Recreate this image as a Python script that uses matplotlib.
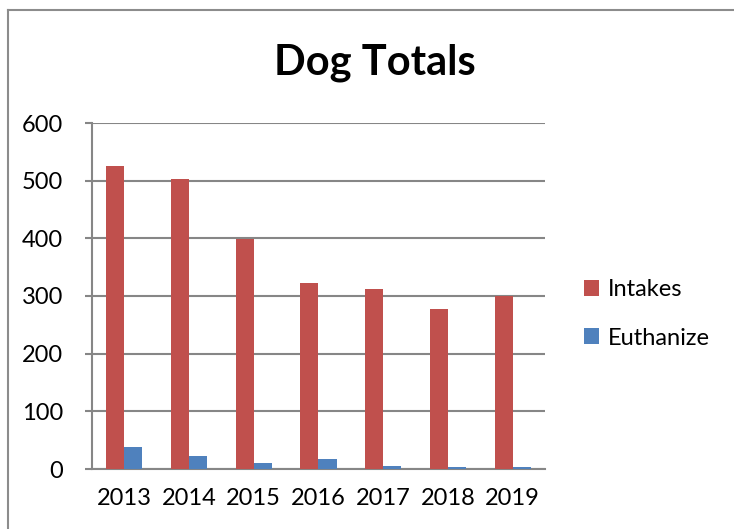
import matplotlib.pyplot as plt
import numpy as np
from matplotlib.lines import Line2D

plt.rcParams['font.family'] = ['Lato', 'DejaVu Sans']

years = ['2013', '2014', '2015', '2016', '2017', '2018', '2019']
intakes = [525, 503, 399, 323, 313, 277, 300]
euthanize = [39, 23, 11, 17, 6, 4, 4]

red = '#C0504D'
blue = '#4F81BD'
grid_col = '#868686'

W, H = 734, 529
fig = plt.figure(figsize=(W / 100, H / 100), dpi=100)

# borde exterior del gráfico (solo arriba e izquierda visibles)
fig.add_artist(Line2D([8 / W, 8 / W], [0, 1 - 10 / H], color='#8c8c8c', lw=1.5))
fig.add_artist(Line2D([8 / W, 1], [1 - 10 / H, 1 - 10 / H], color='#8c8c8c', lw=1.5))

ax = fig.add_axes([92 / W, 60 / H, (545 - 92) / W, (469 - 123) / H])

x = np.arange(len(years))
bw = 0.28
ax.bar(x - bw / 2, intakes, bw, color=red, label='Intakes', zorder=3)
ax.bar(x + bw / 2, euthanize, bw, color=blue, label='Euthanize', zorder=3)

ax.set_xlim(-0.5, len(years) - 0.5)
ax.set_ylim(0, 600)
ax.set_yticks(range(0, 601, 100))
ax.yaxis.grid(True, color=grid_col, lw=1.5, zorder=0)
ax.set_xticks(x)
ax.set_xticklabels(years)

for s in ['top', 'right']:
    ax.spines[s].set_visible(False)
for s in ['left', 'bottom']:
    ax.spines[s].set_color(grid_col)
    ax.spines[s].set_linewidth(1.5)

ax.tick_params(axis='y', length=5, width=1.5, color=grid_col, labelsize=17, pad=16)
ax.tick_params(axis='x', length=0, labelsize=17, pad=14)

fig.text(375 / W, 1 - 63 / H, 'Dog Totals', ha='center', va='center',
         fontsize=30, fontweight='bold')

fig.legend(loc='center left', bbox_to_anchor=(572 / W, 1 - 314 / H), frameon=False,
           fontsize=17, handlelength=0.65, handleheight=0.65, handletextpad=0.35,
           labelspacing=1.15, borderpad=0)

fig.savefig('out.png', dpi=100)
